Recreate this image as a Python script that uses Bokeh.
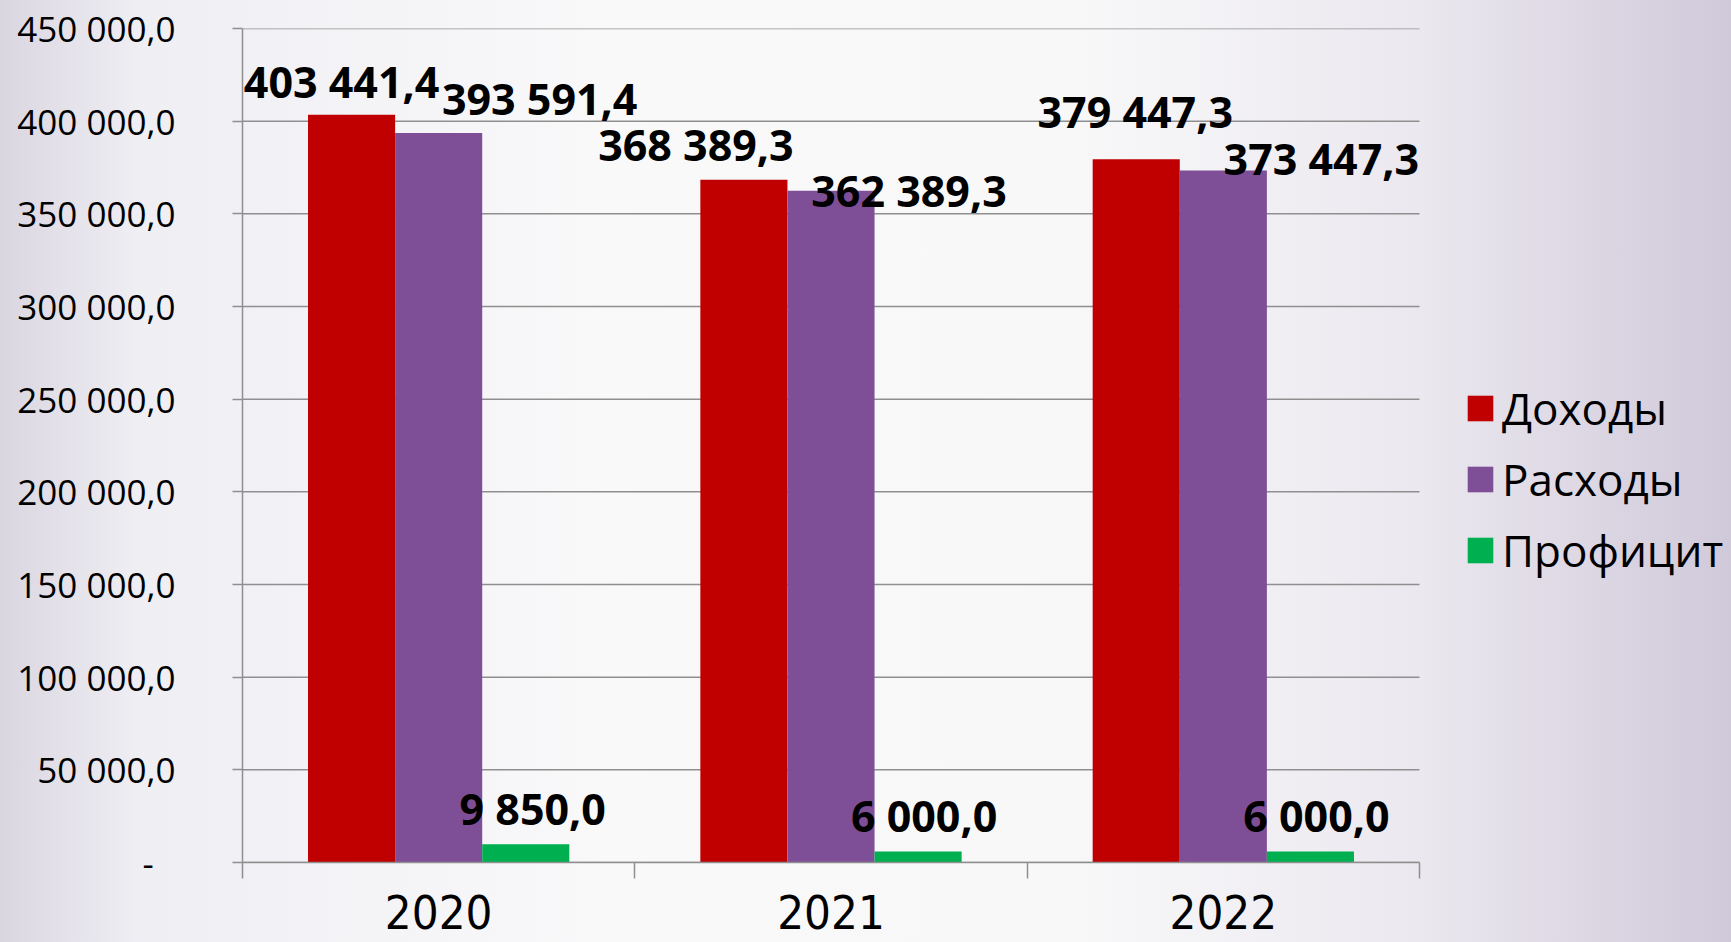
from bokeh.plotting import figure
from bokeh.models import (ColumnDataSource, Range1d, FixedTicker, Legend, LegendItem, LabelSet)
from bokeh.core.properties import value
from bokeh.transform import dodge
from bokeh.embed import file_html
from bokeh.resources import INLINE

# ---- data ----
years = ["2020", "2021", "2022"]
dohody = [403441.4, 368389.3, 379447.3]
rashody = [393591.4, 362389.3, 373447.3]
proficit = [9850.0, 6000.0, 6000.0]
series_names = ["Доходы", "Расходы", "Профицит"]
y_ticks = [0, 50000, 100000, 150000, 200000, 250000, 300000, 350000, 400000, 450000]
y_tick_labels = ["-\u00a0\u00a0\u200a", "50 000,0", "100 000,0", "150 000,0", "200 000,0",
                 "250 000,0", "300 000,0", "350 000,0", "400 000,0", "450 000,0"]

# ---- style / layout ----
W, H = 1731, 942
LEFT, TOP, BOTTOM = 242, 28, 80
CAT_SPAN_PX = 1177            # width in px of the three category slots
colors = ["#C00000", "#7E4F97", "#00B050"]
bar_w = 0.222
dodges = [-bar_w, 0.0, bar_w]
# manual label offsets (px) relative to the bar top centre, per series per year
label_dx = [[-10, -48, -1], [101, 78, 98], [7, 6, 6]]
label_dy = [[17, 19, 31], [18, -16, -5], [19, 19, 19]]  # positive = up

def fmt(v):
    return f"{v:,.1f}".replace(",", " ").replace(".", ",")

n = len(years)
xc = [i + 0.5 for i in range(n)]
bticks = list(range(n + 1))
x_end = n * (W - LEFT) / CAT_SPAN_PX   # frame runs to the right edge (legend area)

p = figure(x_range=Range1d(0, x_end), y_range=Range1d(0, 450000),
           width=W, height=H, output_backend="svg", toolbar_location=None,
           x_axis_location="below", y_axis_location="left",
           min_border_left=LEFT, min_border_right=0, min_border_top=TOP, min_border_bottom=BOTTOM)
p.background_fill_alpha = 0
p.border_fill_alpha = 0
p.outline_line_color = None
p.styles = {"background": "linear-gradient(to right, #dad6e1 0%, #efeef3 8%, #f9f9fa 35%, #f8f8f9 62%, #ebe8ef 82%, #d0c9da 100%)"}

gray = "#8f8f8f"

# horizontal grid lines, limited to the category area
p.xgrid.visible = False
p.ygrid.visible = False
p.segment(x0=0, x1=n, y0=y_ticks, y1=y_ticks, line_color=gray, line_width=1.5)

src = ColumnDataSource(dict(xc=xc, year=years, d=dohody, r=rashody, pr=proficit))
renderers = []
for col, c, dd in zip(["d", "r", "pr"], colors, dodges):
    rr = p.vbar(x=dodge("xc", dd), top=col, width=bar_w, source=src,
                fill_color=c, line_color=None)
    renderers.append(rr)

# y axis
ya = p.yaxis[0]
ya.ticker = FixedTicker(ticks=y_ticks)
ya.major_label_overrides = dict(zip(y_ticks, y_tick_labels))
ya.major_label_text_font = "Open Sans"
ya.major_label_text_font_size = "35px"
ya.major_label_text_color = "#000000"
ya.major_label_standoff = 57
ya.major_tick_out = 10
ya.major_tick_in = 0
ya.minor_tick_line_color = None
ya.axis_line_color = gray
ya.axis_line_width = 1.5
ya.major_tick_line_color = gray
ya.major_tick_line_width = 1.5

# x axis: year labels at slot centres, boundary ticks as minor ticks
xa = p.xaxis[0]
xa.bounds = (0, n)
xa.ticker = FixedTicker(ticks=xc, minor_ticks=bticks)
xa.major_label_overrides = dict(zip(xc, years))
xa.major_tick_out = 0
xa.major_tick_in = 0
xa.major_tick_line_color = None
xa.minor_tick_out = 16
xa.minor_tick_in = 0
xa.minor_tick_line_color = gray
xa.minor_tick_line_width = 1.5
xa.axis_line_color = gray
xa.axis_line_width = 1.5
xa.major_label_text_font = "'DejaVu Sans Condensed', 'Open Sans', sans-serif"
xa.major_label_text_font_size = "47px"
xa.major_label_text_color = "#000000"
xa.major_label_standoff = 16

# data labels
for vals, dx, dy, dd in zip([dohody, rashody, proficit], label_dx, label_dy, dodges):
    ls = ColumnDataSource(dict(xc=xc, v=vals, t=[fmt(v) for v in vals], dx=dx, dy=dy))
    p.add_layout(LabelSet(x=dodge("xc", dd), y="v", text="t", source=ls,
                          x_offset="dx", y_offset="dy", text_align="center",
                          text_baseline="alphabetic", text_font=value("Open Sans"),
                          text_font_style="bold", text_font_size="43px", text_color="#000000"))

legend = Legend(items=[LegendItem(label=s, renderers=[r]) for s, r in zip(series_names, renderers)],
                location=(1222, 282), orientation="vertical",
                glyph_width=32, glyph_height=32, label_height=60, spacing=11,
                label_standoff=6, padding=0, margin=0,
                label_text_font="Open Sans", label_text_font_size="44px", label_text_color="#000000",
                border_line_color=None, background_fill_alpha=0)
p.add_layout(legend, "center")

open("out.html", "w").write(file_html(p, INLINE))
